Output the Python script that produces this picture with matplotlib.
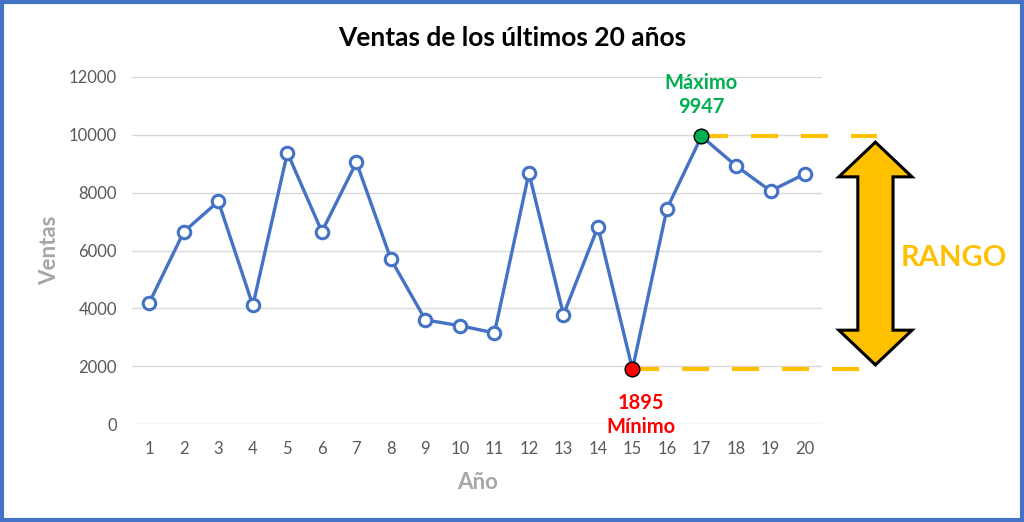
import numpy as np
import matplotlib.pyplot as plt
from matplotlib.patches import Polygon, Rectangle

plt.rcParams['font.family'] = ['Lato', 'DejaVu Sans']

# datos
anios = list(range(1, 21))
ventas = [4200, 6650, 7700, 4100, 9380, 6650, 9050, 5700, 3600, 3400,
          3150, 8680, 3780, 6820, 1895, 7450, 9947, 8930, 8060, 8650]
titulo = 'Ventas de los últimos 20 años'
y_ticks = [0, 2000, 4000, 6000, 8000, 10000, 12000]

azul = '#4472C4'
oro = '#FFC000'
verde = '#00B050'
rojo = '#FF0000'
gris = '#595959'

fig = plt.figure(figsize=(10.24, 5.22), dpi=100)
ax = fig.add_axes([0.129, 0.1877, 0.674, 0.6648])

ax.plot(anios, ventas, color=azul, lw=2.4, marker='o', ms=9,
        mfc='white', mec=azul, mew=2.2, zorder=3)

i_max = int(np.argmax(ventas))
i_min = int(np.argmin(ventas))
x_max, v_max = anios[i_max], ventas[i_max]
x_min, v_min = anios[i_min], ventas[i_min]

# lineas de rango
x_end = 22.1
ax.plot([x_max, x_end], [v_max, v_max], color=oro, lw=3, ls=(0, (6.5, 5.5)),
        clip_on=False, zorder=2)
ax.plot([x_min, x_end], [v_min, v_min], color=oro, lw=3, ls=(0, (6.5, 5.5)),
        clip_on=False, zorder=2)

ax.plot(x_max, v_max, 'o', ms=10.5, mfc=verde, mec='black', mew=1, zorder=4)
ax.plot(x_min, v_min, 'o', ms=10.5, mfc=rojo, mec='black', mew=1, zorder=4)

ax.text(x_max, v_max + 680, 'Máximo\n%d' % v_max, color=verde, fontsize=14.5,
        fontweight='bold', ha='center', va='bottom', linespacing=1.25)
ax.text(x_min + 0.25, v_min - 820, '%d\nMínimo' % v_min, color=rojo, fontsize=14.5,
        fontweight='bold', ha='center', va='top', linespacing=1.25)

# flecha doble
xc = 22.04
top = v_max - 200
bot = v_min + 150
hw, sw, hl = 1.06, 0.51, 1200
pts = [(xc, top), (xc + hw, top - hl), (xc + sw, top - hl), (xc + sw, bot + hl),
       (xc + hw, bot + hl), (xc, bot), (xc - hw, bot + hl), (xc - sw, bot + hl),
       (xc - sw, top - hl), (xc - hw, top - hl)]
ax.add_patch(Polygon(pts, closed=True, facecolor=oro, edgecolor='black',
                     lw=2.2, clip_on=False, zorder=3, joinstyle='miter'))
ax.text(24.3, 5740, 'RANGO', color=oro, fontsize=21,
        fontweight='bold', ha='center', va='center')

ax.set_xlim(0.5, 20.5)
ax.set_ylim(0, 12000)
ax.set_xticks(anios)
ax.set_yticks(y_ticks)
ax.tick_params(length=0, labelsize=12, labelcolor=gris, pad=12)
ax.tick_params(axis='y', pad=11)
ax.grid(axis='y', color='#D9D9D9', lw=1)
ax.set_axisbelow(True)
for s in ax.spines.values():
    s.set_visible(False)

ax.set_ylabel('Ventas', fontsize=16, fontweight='bold', color='#A6A6A6', labelpad=6)
ax.set_xlabel('Año', fontsize=16, fontweight='bold', color='#A6A6A6', labelpad=11)
fig.text(0.5, 0.927, titulo, fontsize=19, fontweight='bold', ha='center', va='center')

fig.add_artist(Rectangle((0.002, 0.004), 0.996, 0.992, transform=fig.transFigure,
                         fill=False, edgecolor=azul, lw=3))

fig.savefig('out.png', dpi=100)
